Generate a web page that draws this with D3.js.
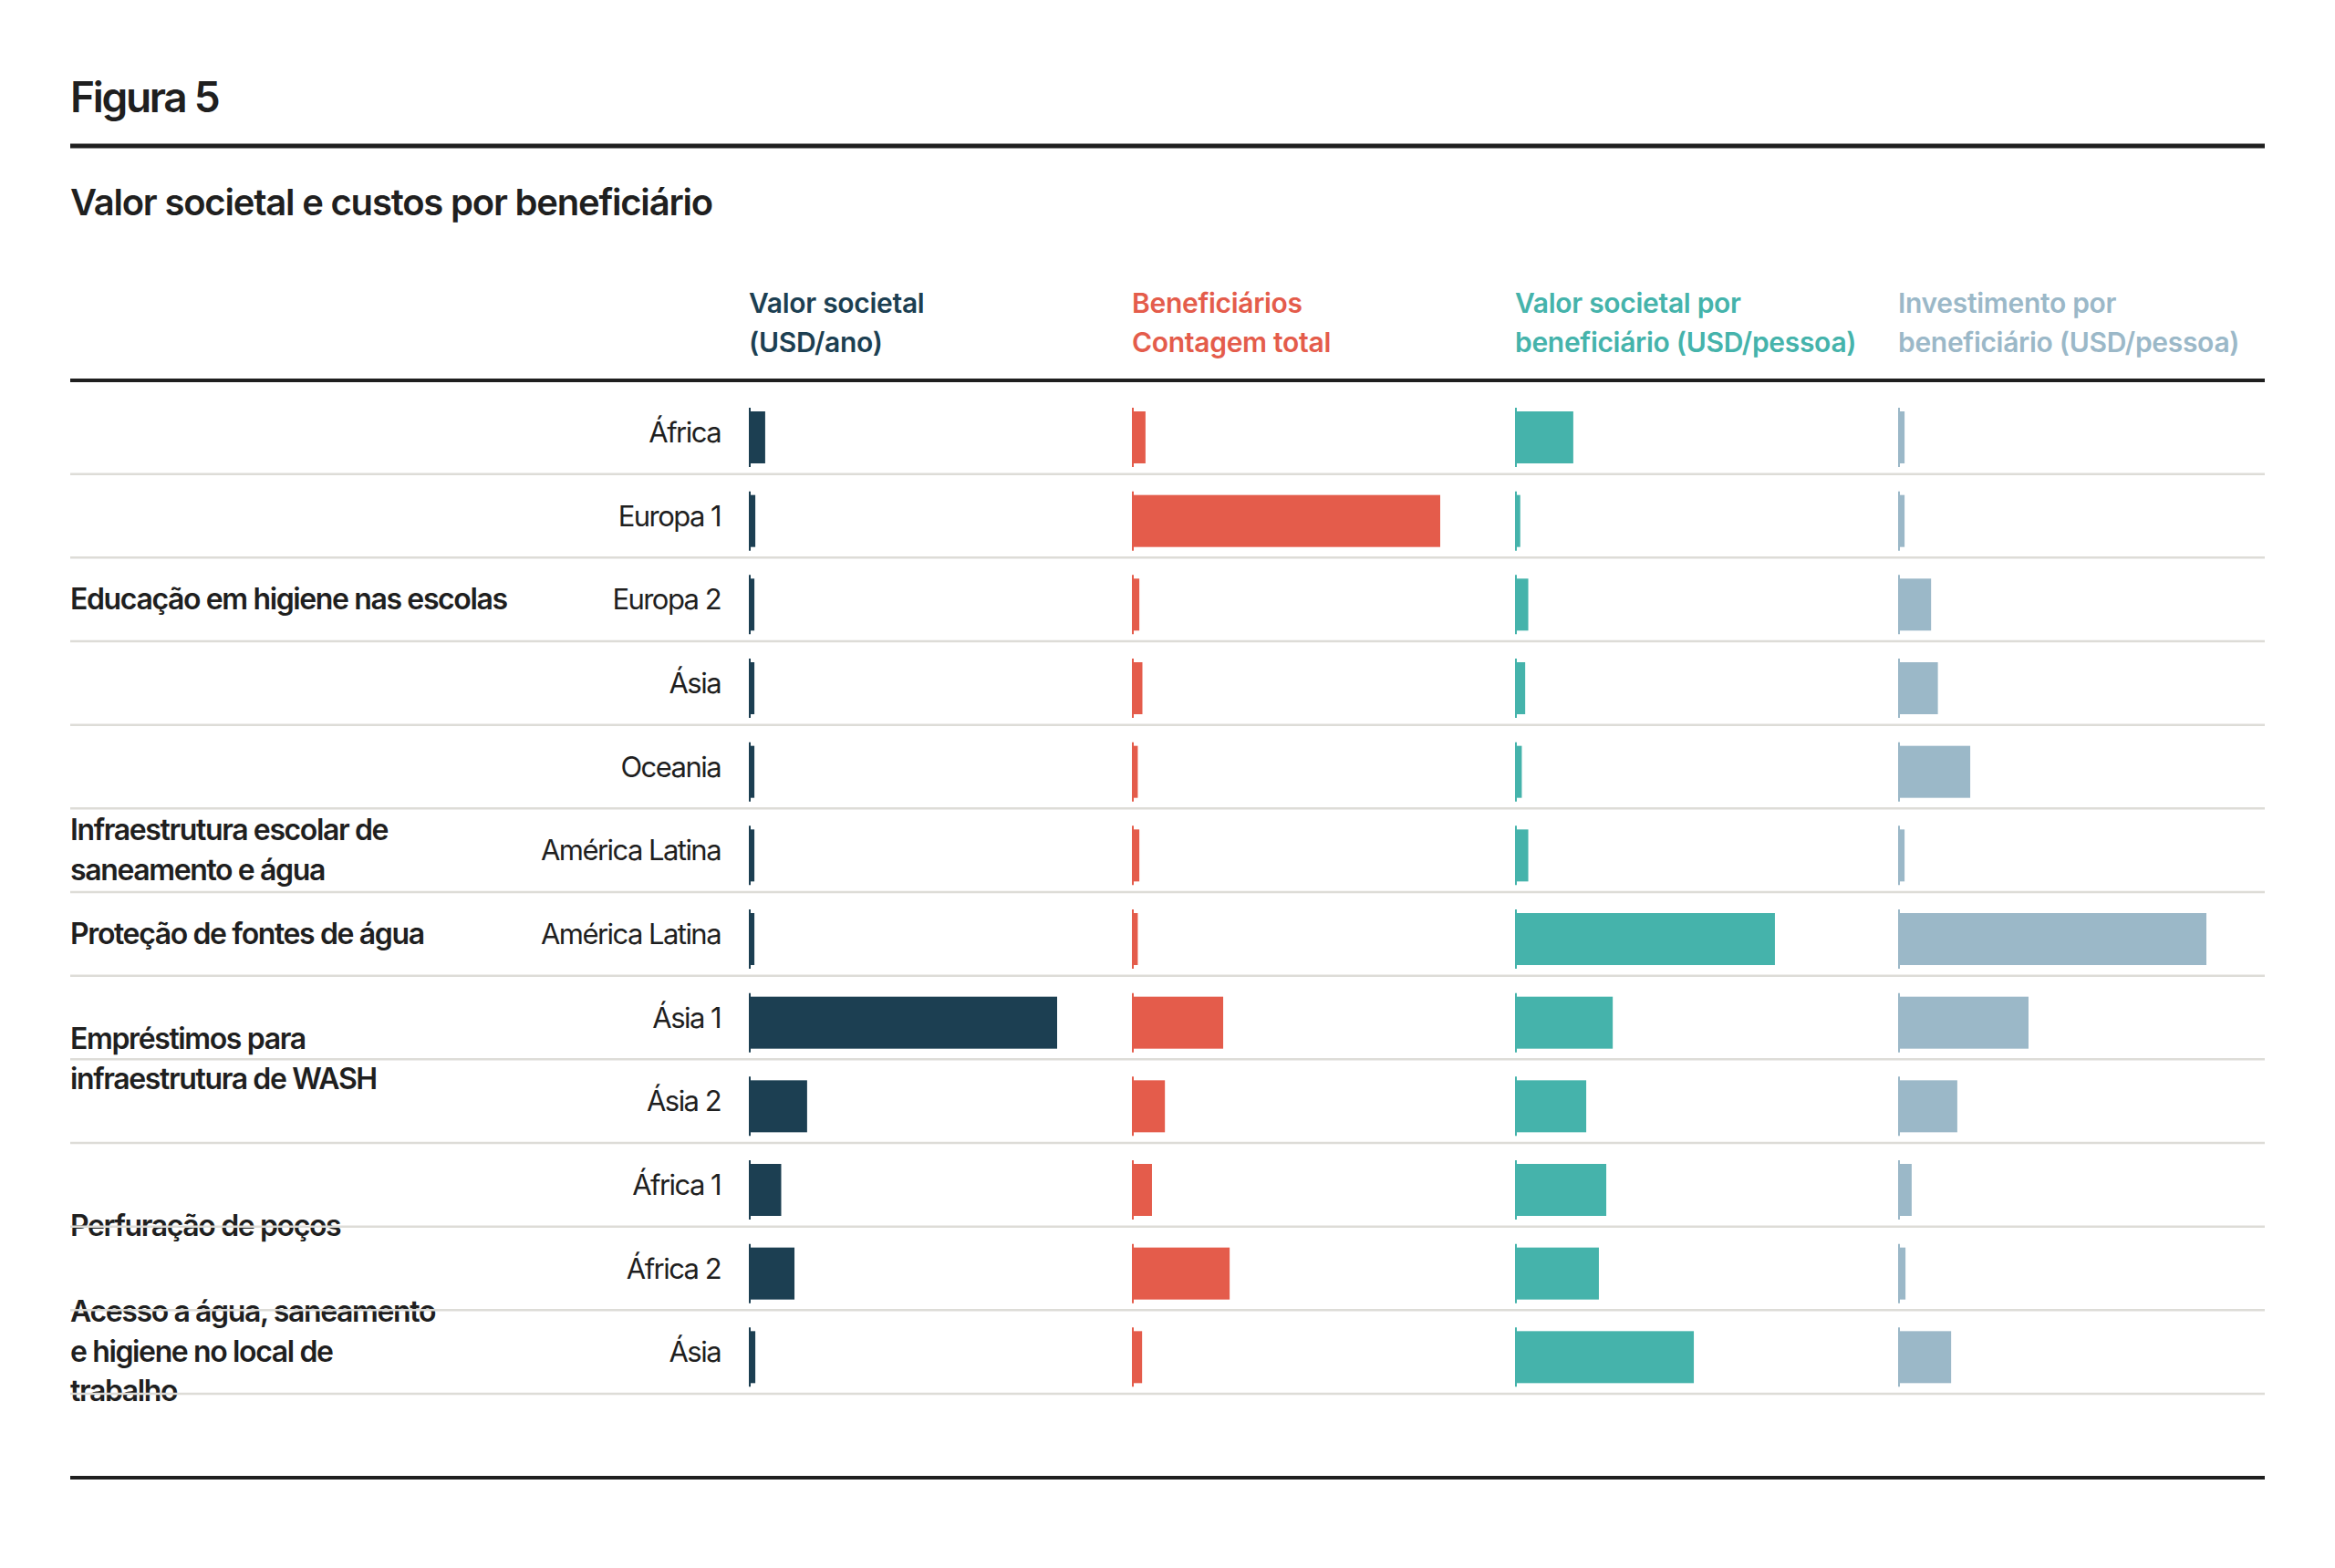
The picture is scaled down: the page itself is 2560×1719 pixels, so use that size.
<!DOCTYPE html>
<html lang="pt">
<head>
<meta charset="UTF-8">
<title>Figura 5</title>
<script src="https://d3js.org/d3.v7.min.js"></script>
<style>
    html, body { margin: 0; padding: 0; background: #fff; }
    text { font-family: Inter, "Noto Sans", sans-serif; fill: #1f1f1f; }
    .title { font-size: 46px; font-weight: 600; letter-spacing: -0.05em; }
    .subtitle { font-size: 40px; font-weight: 600; letter-spacing: -0.03em; }
    .head { font-size: 30px; font-weight: 600; letter-spacing: -0.01em; }
    .row-label { font-size: 31px; font-weight: 400; letter-spacing: -0.05em; }
    .group-label { font-size: 32px; font-weight: 600; letter-spacing: -0.043em; }
</style>
</head>
<body>
<svg id="chart" width="2560" height="1719"></svg>
<script>
    // Row labels (region of each project)
    const regions = ["África", "Europa 1", "Europa 2", "Ásia", "Oceania", "América Latina",
                     "América Latina", "Ásia 1", "Ásia 2", "África 1", "África 2", "Ásia"];

    // Project types, with the rows they span
    const groupLabels = [
        ["Educação em higiene nas escolas"],
        ["Infraestrutura escolar de", "saneamento e água"],
        ["Proteção de fontes de água"],
        ["Empréstimos para", "infraestrutura de WASH"],
        ["Perfuração de poços"],
        ["Acesso a água, saneamento", "e higiene no local de", "trabalho"]
    ];
    const groupFirstRow = [0, 5, 6, 7, 9, 11];
    const groupLastRow  = [4, 5, 6, 8, 10, 11];

    // Column headers
    const metricHeaders = [
        ["Valor societal", "(USD/ano)"],
        ["Beneficiários", "Contagem total"],
        ["Valor societal por", "beneficiário (USD/pessoa)"],
        ["Investimento por", "beneficiário (USD/pessoa)"]
    ];
    const metricColors = ["#1c3f52", "#e45c4b", "#45b3ab", "#9bb8c8"];

    // Values, indexed so that the longest bar of the panel = 100
    const valorSocietal     = [5.3, 2.1, 1.8, 1.8, 1.8, 1.8, 1.8, 100, 18.9, 10.5, 14.8, 2.1];
    const beneficiarios     = [4.4, 100, 2.4, 3.4, 1.9, 2.4, 1.9, 29.6, 10.7, 6.5, 31.7, 3.3];
    const valorPorBenef     = [18.9, 1.7, 4.3, 3.3, 2.2, 4.3, 84.3, 31.7, 23.1, 29.6, 27.2, 58];
    const investPorBenef    = [2.1, 2.1, 10.7, 12.9, 23.4, 2.1, 100, 42.3, 19.2, 4.4, 2.4, 17.2];
    const series = [valorSocietal, beneficiarios, valorPorBenef, investPorBenef];

    const left = 77, right = 2483;
    const svg = d3.select("#chart");

    // Title block
    svg.append("text").attr("class", "title").attr("x", left).attr("y", 123).text("Figura 5");
    svg.append("line").attr("x1", left).attr("x2", right).attr("y1", 160).attr("y2", 160)
        .attr("stroke", "#1f1f1f").attr("stroke-width", 5);
    svg.append("text").attr("class", "subtitle").attr("x", left).attr("y", 236)
        .text("Valor societal e custos por beneficiário");

    // Scales
    const y = d3.scaleBand().domain(d3.range(regions.length)).range([428, 1528]);
    const col = d3.scaleBand().domain(d3.range(series.length)).range([821, 2501]);
    const x = d3.scaleLinear().domain([0, 100]).range([0, 338]);
    const barTop = 23, barH = 57;
    const mid = i => y(i) + barTop + barH / 2;

    // Column headers
    metricHeaders.forEach((lines, c) => {
        const t = svg.append("text").attr("class", "head")
            .attr("x", col(c)).attr("y", 343).style("fill", metricColors[c]);
        lines.forEach((l, k) => t.append("tspan").attr("x", col(c)).attr("dy", k ? 43 : 0).text(l));
    });
    svg.append("line").attr("x1", left).attr("x2", right).attr("y1", 417).attr("y2", 417)
        .attr("stroke", "#1f1f1f").attr("stroke-width", 4);

    // Region labels
    svg.append("g").selectAll("text").data(regions).join("text")
        .attr("class", "row-label")
        .attr("x", 790).attr("y", (d, i) => mid(i) - 3)
        .attr("text-anchor", "end").attr("dominant-baseline", "middle")
        .text(d => d);

    // Group labels
    groupLabels.forEach((lines, g) => {
        const cy = (mid(groupFirstRow[g]) + mid(groupLastRow[g])) / 2 - 4;
        const t = svg.append("text").attr("class", "group-label")
            .attr("x", left).attr("dominant-baseline", "middle");
        lines.forEach((l, k) => t.append("tspan").attr("x", left)
            .attr("y", cy + (k - (lines.length - 1) / 2) * 43.5).text(l));
    });

    // Bars
    series.forEach((vals, c) => {
        const g = svg.append("g").attr("transform", `translate(${col(c)},0)`);
        g.selectAll("rect").data(vals).join("rect")
            .attr("x", 0).attr("y", (d, i) => y(i) + barTop)
            .attr("width", d => x(d)).attr("height", barH)
            .attr("fill", metricColors[c]);
        g.selectAll("line").data(vals).join("line")
            .attr("x1", 1).attr("x2", 1)
            .attr("y1", (d, i) => y(i) + barTop - 4).attr("y2", (d, i) => y(i) + barTop + barH + 4)
            .attr("stroke", metricColors[c]).attr("stroke-width", 2);
    });

    // Row separators (drawn over the labels, as in the original)
    svg.append("g").selectAll("line").data(regions).join("line")
        .attr("x1", left).attr("x2", right)
        .attr("y1", (d, i) => y(i) + y.bandwidth()).attr("y2", (d, i) => y(i) + y.bandwidth())
        .attr("stroke", "#dddcd7").attr("stroke-width", 2.5);

    svg.append("line").attr("x1", left).attr("x2", right).attr("y1", 1620).attr("y2", 1620)
        .attr("stroke", "#1f1f1f").attr("stroke-width", 4);
</script>
</body>
</html>
